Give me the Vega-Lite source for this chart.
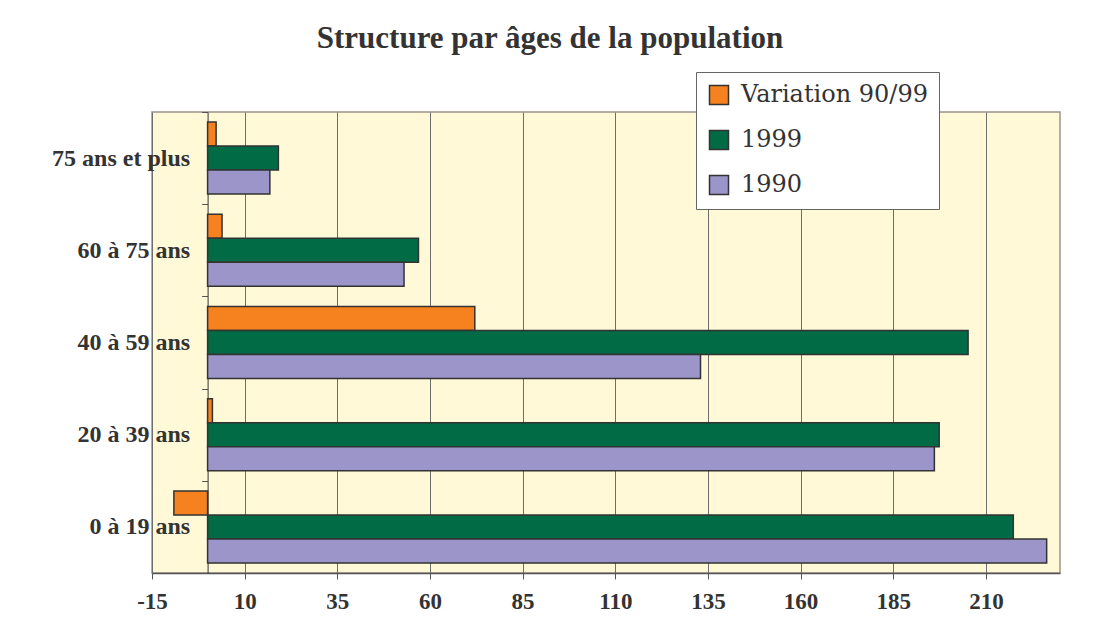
{
  "$schema": "https://vega.github.io/schema/vega-lite/v6.json",
  "width": 908,
  "height": 461,
  "autosize": {"type": "none"},
  "padding": {"left": 152, "top": 112, "right": 33, "bottom": 44},
  "background": "white",
  "title": {
    "text": "Structure par âges de la population",
    "font": "Liberation Serif",
    "fontSize": 31,
    "fontWeight": "bold",
    "color": "#333333",
    "anchor": "middle",
    "dx": -56,
    "offset": 17
  },
  "data": {
    "values": [
      {"age": "75 ans et plus", "serie": "Variation 90/99", "valeur": 2.3},
      {"age": "75 ans et plus", "serie": "1999", "valeur": 19.1},
      {"age": "75 ans et plus", "serie": "1990", "valeur": 16.8},
      {"age": "60 à 75 ans", "serie": "Variation 90/99", "valeur": 3.9},
      {"age": "60 à 75 ans", "serie": "1999", "valeur": 56.9},
      {"age": "60 à 75 ans", "serie": "1990", "valeur": 53.0},
      {"age": "40 à 59 ans", "serie": "Variation 90/99", "valeur": 72.1},
      {"age": "40 à 59 ans", "serie": "1999", "valeur": 205.2},
      {"age": "40 à 59 ans", "serie": "1990", "valeur": 133.0},
      {"age": "20 à 39 ans", "serie": "Variation 90/99", "valeur": 1.3},
      {"age": "20 à 39 ans", "serie": "1999", "valeur": 197.4},
      {"age": "20 à 39 ans", "serie": "1990", "valeur": 196.1},
      {"age": "0 à 19 ans", "serie": "Variation 90/99", "valeur": -9.1},
      {"age": "0 à 19 ans", "serie": "1999", "valeur": 217.4},
      {"age": "0 à 19 ans", "serie": "1990", "valeur": 226.4}
    ]
  },
  "mark": {"type": "bar", "stroke": "#333333", "strokeWidth": 1.5, "opacity": 1},
  "encoding": {
    "y": {
      "field": "age",
      "type": "nominal",
      "sort": ["75 ans et plus", "60 à 75 ans", "40 à 59 ans", "20 à 39 ans", "0 à 19 ans"],
      "scale": {"paddingInner": 0, "paddingOuter": 0},
      "axis": {
        "title": null,
        "offset": -55.6,
        "tickBand": "extent",
        "domainColor": "#333333",
        "domainWidth": 1,
        "tickColor": "#555555",
        "tickSize": 6,
        "labelFont": "Liberation Serif",
        "labelFontSize": 24,
        "labelFontWeight": "bold",
        "labelColor": "#333333",
        "labelPadding": 12,
        "grid": false
      }
    },
    "yOffset": {
      "field": "serie",
      "type": "nominal",
      "sort": ["Variation 90/99", "1999", "1990"],
      "scale": {"paddingInner": 0, "paddingOuter": 0.42}
    },
    "x": {
      "field": "valeur",
      "type": "quantitative",
      "scale": {"domain": [-15, 230], "nice": false, "zero": false},
      "axis": {
        "title": null,
        "values": [-15, 10, 35, 60, 85, 110, 135, 160, 185, 210],
        "labelExpr": "replace(datum.label, '−', '-')",
        "grid": true,
        "gridColor": "#6e6e6e",
        "gridWidth": 1,
        "domainColor": "#555555",
        "domainWidth": 1.5,
        "tickColor": "#555555",
        "tickSize": 6,
        "labelFont": "Liberation Serif",
        "labelFontSize": 23,
        "labelFontWeight": "bold",
        "labelColor": "#333333",
        "labelPadding": 11,
        "labelFlush": false
      }
    },
    "color": {
      "field": "serie",
      "type": "nominal",
      "sort": ["Variation 90/99", "1999", "1990"],
      "scale": {
        "domain": ["Variation 90/99", "1999", "1990"],
        "range": ["#F5821F", "#006B45", "#9B95C9"]
      },
      "legend": {
        "title": null,
        "orient": "none",
        "legendX": 544,
        "legendY": -40,
        "fillColor": "white",
        "strokeColor": "#666666",
        "padding": 11,
        "symbolType": "square",
        "symbolSize": 361,
        "symbolStrokeColor": "#333333",
        "symbolStrokeWidth": 1.5,
        "symbolOpacity": 1,
        "labelFont": "DejaVu Serif",
        "labelFontSize": 24,
        "labelColor": "#333333",
        "labelOffset": 10,
        "rowPadding": 19,
        "labelLimit": 400
      }
    }
  },
  "config": {
    "font": "Liberation Serif",
    "view": {"fill": "#FFF9D7", "stroke": "#9c948c", "strokeWidth": 1.5}
  }
}
